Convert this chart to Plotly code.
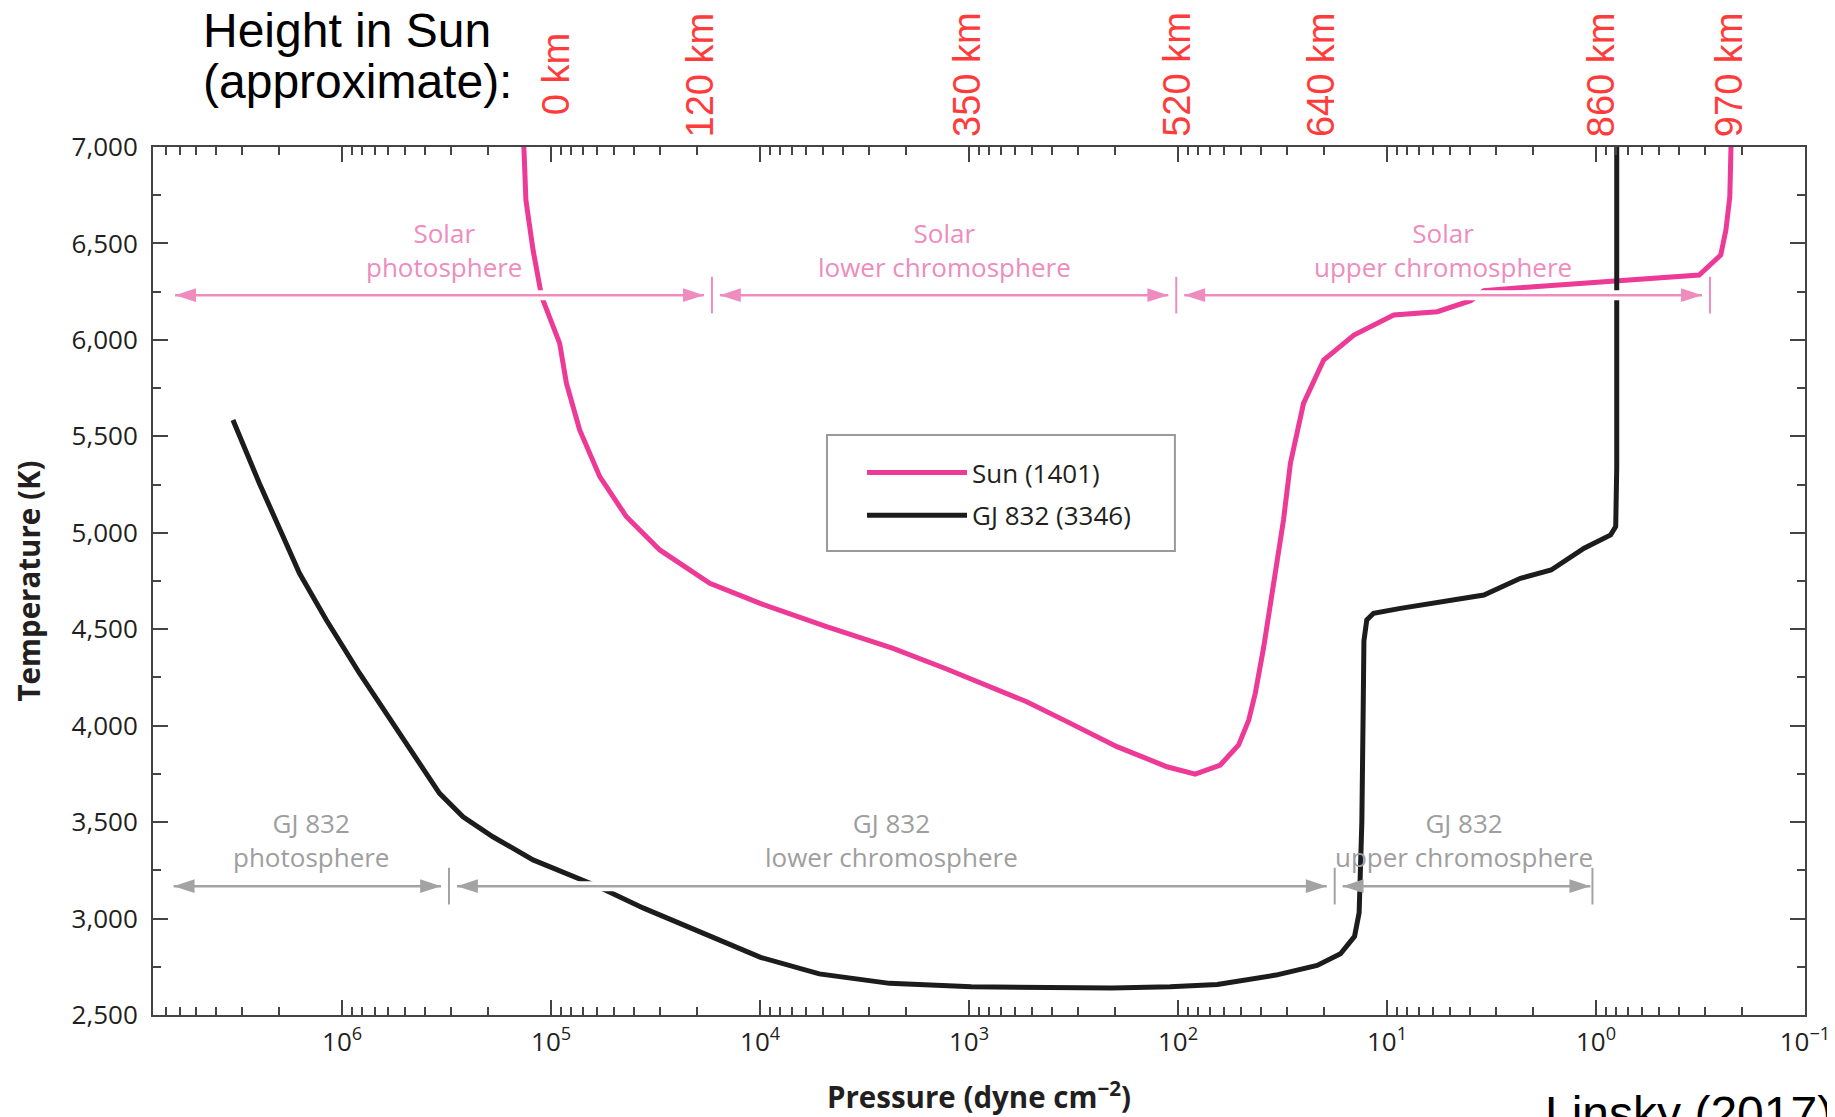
import math
import plotly.graph_objects as go

# ---------------- data ----------------
SUN_P = [1.35e5, 1.32e5, 1.22e5, 1.11e5, 9.1e4, 8.45e4, 7.3e4, 5.85e4, 4.36e4, 3.02e4,
         1.74e4, 1.0e4, 4.81e3, 2.31e3, 1.29e3, 711, 530, 340, 196, 113,
         82.8, 62.8, 51.3, 45.9, 42.7, 38.9, 34.9, 33.0, 31.3, 29.0,
         25.1, 20.1, 14.4, 9.29, 5.75, 3.98, 3.44, 1.98, 1.14, 0.791,
         0.548, 0.321, 0.253, 0.239, 0.229, 0.226]
SUN_T = [7000, 6725, 6466, 6224, 5982, 5775, 5533, 5291, 5083, 4911,
         4738, 4634, 4513, 4401, 4295, 4185, 4124, 4021, 3891, 3787,
         3749, 3796, 3900, 4029, 4168, 4409, 4755, 4911, 5066, 5360,
         5671, 5896, 6025, 6129, 6146, 6203, 6255, 6276, 6293, 6302,
         6316, 6336, 6440, 6570, 6742, 7000]

GJ_P = [3.33e6, 2.49e6, 1.60e6, 1.19e6, 8.26e5, 5.71e5, 4.42e5, 3.42e5, 2.64e5, 1.90e5,
        1.22e5, 7.29e4, 6.05e4, 3.61e4, 1.90e4, 9.95e3, 5.21e3, 2.40e3, 975, 394,
        207, 109, 64.9, 34.0, 21.6, 16.7, 14.3, 13.6, 13.2, 13.0,
        12.9, 12.5, 11.6, 8.63, 5.97, 3.44, 2.30, 1.64, 1.14, 0.986,
        0.851, 0.805, 0.796, 0.796]
GJ_T = [5585, 5257, 4790, 4548, 4272, 4012, 3822, 3649, 3528, 3424,
        3304, 3200, 3169, 3054, 2927, 2799, 2713, 2664, 2646, 2640,
        2640, 2646, 2658, 2707, 2757, 2817, 2908, 3030, 3500, 4100,
        4440, 4548, 4583, 4608, 4634, 4677, 4764, 4807, 4920, 4954,
        4989, 5032, 5336, 7000]

# atmospheric regions: boundaries in pressure (left end, inner boundaries, right end)
REGION_NAMES = ["photosphere", "lower chromosphere", "upper chromosphere"]
SUN_EDGES = [6.3e6, 1.7e4, 102, 0.285]
SUN_ARROW_T = 6232
SUN_LABEL_T = 6464
GJ_EDGES = [6.4e6, 3.08e5, 17.8, 1.04]
GJ_ARROW_T = 3168
GJ_LABEL_T = 3406

HEIGHT_LABELS = ["0 km", "120 km", "350 km", "520 km", "640 km", "860 km", "970 km"]
HEIGHT_P = [9.5e4, 1.94e4, 1.03e3, 1.02e2, 20.8, 0.95, 0.232]

X_TICK_EXP = [6, 5, 4, 3, 2, 1, 0, -1]
Y_TICKS = list(range(2500, 7001, 500))

# ---------------- styles ----------------
SUN_COLOR = "#ec3a96"
GJ_COLOR = "#1c1c1c"
SUN_NOTE = "#ee8cbe"
GJ_NOTE = "#9e9e9e"
GJ_ARROW = "#a3a3a3"
AXIS_COLOR = "#444444"
TEXT = "#231f20"

fig = go.Figure()
fig.add_trace(go.Scatter(x=SUN_P, y=SUN_T, mode="lines", name="Sun (1401)",
                         legendgroup="sun", line=dict(color=SUN_COLOR, width=5)))
fig.add_trace(go.Scatter(x=GJ_P, y=GJ_T, mode="lines", name="GJ 832 (3346)",
                         legendgroup="gj", line=dict(color=GJ_COLOR, width=5)))


def region_spans(edges, end_gap):
    logs = [math.log10(e) for e in edges]
    gap = 0.038
    spans = []
    for i in range(3):
        left = logs[i] - (0 if i == 0 else gap)
        right = logs[i + 1] + (end_gap if i == 2 else gap)
        spans.append((10 ** left, 10 ** right))
    return logs, spans


sun_logs, sun_spans = region_spans(SUN_EDGES, 0.038)
gj_logs, gj_spans = region_spans(GJ_EDGES, 0.01)

# white halos where the arrows cross the curves
hx, hy = [], []
for spans, t in [(sun_spans, SUN_ARROW_T), (gj_spans, GJ_ARROW_T)]:
    for a, b in spans:
        hx += [a, b, None]
        hy += [t, t, None]
fig.add_trace(go.Scatter(x=hx, y=hy, mode="lines", line=dict(color="white", width=10),
                         showlegend=False, hoverinfo="skip"))

# boundary bars and double-headed arrows
for edges, spans, t, color in [(SUN_EDGES, sun_spans, SUN_ARROW_T, SUN_NOTE),
                               (GJ_EDGES, gj_spans, GJ_ARROW_T, GJ_ARROW)]:
    bx, by = [], []
    for e in edges[1:]:
        bx += [e, e, None]
        by += [t - 95, t + 95, None]
    fig.add_trace(go.Scatter(x=bx, y=by, mode="lines", line=dict(color=color, width=2),
                             showlegend=False, hoverinfo="skip"))
    ax_, ay_, ang = [], [], []
    for a, b in spans:
        ax_ += [a, b, None]
        ay_ += [t, t, None]
        ang += [-90, 90, 0]
    fig.add_trace(go.Scatter(x=ax_, y=ay_, mode="lines+markers",
                             line=dict(color=color, width=2.5),
                             marker=dict(symbol="arrow", size=22, angle=ang,
                                         color=color, line=dict(width=0)),
                             showlegend=False, hoverinfo="skip"))

annotations = []
# region labels
for logs, t, prefix, color in [(sun_logs, SUN_LABEL_T, "Solar", SUN_NOTE),
                               (gj_logs, GJ_LABEL_T, "GJ 832", GJ_NOTE)]:
    for i in range(3):
        mid = (logs[i] + logs[i + 1]) / 2
        annotations.append(dict(x=mid, y=t, xref="x", yref="y",
                                text=prefix + "<br>" + REGION_NAMES[i],
                                showarrow=False, xanchor="center", yanchor="middle",
                                font=dict(family="Open Sans", size=26, color=color)))

# height-in-Sun labels above the plot
for lab, p in zip(HEIGHT_LABELS, HEIGHT_P):
    annotations.append(dict(x=math.log10(p), y=1.0835, xref="x", yref="paper",
                            text=lab, showarrow=False, textangle=-90,
                            xanchor="center", yanchor="middle",
                            font=dict(family="Liberation Sans, Arial", size=38, color="#ff3b3b")))

annotations.append(dict(x=0.0289, y=1.1345, xref="paper", yref="paper",
                        text="Height in Sun", showarrow=False, xanchor="left", yanchor="middle",
                        font=dict(family="Liberation Sans, Arial", size=48, color="black")))
annotations.append(dict(x=0.0289, y=1.0755, xref="paper", yref="paper",
                        text="(approximate):", showarrow=False, xanchor="left", yanchor="middle",
                        font=dict(family="Liberation Sans, Arial", size=48, color="black")))
annotations.append(dict(x=0.8415, y=-0.0806, xref="paper", yref="paper",
                        text="Linsky (2017)", showarrow=False, xanchor="left", yanchor="top",
                        font=dict(family="Liberation Sans, Arial", size=48, color="black")))

minor_x = [m * 10 ** k for k in range(-1, 7) for m in range(2, 10)]
minor_x = [v for v in minor_x if v < 8.0e6]

legend_box = dict(type="rect", xref="paper", yref="paper", layer="below",
                  x0=0.408, x1=0.6186, y0=0.5346, y1=0.6682,
                  line=dict(color="#9a9a9a", width=2), fillcolor="white")

# the page adds an 8 px body margin, so the figure is 8 px smaller than the window
fig.update_layout(
    width=1827, height=1109,
    margin=dict(l=145, r=30, t=139, b=102, autoexpand=False),
    paper_bgcolor="white", plot_bgcolor="white",
    font=dict(family="Open Sans", size=26, color=TEXT),
    shapes=[legend_box],
    annotations=annotations,
    showlegend=True,
    legend=dict(x=0.408, y=0.652, xanchor="left", yanchor="top",
                borderwidth=0, bgcolor="rgba(0,0,0,0)",
                font=dict(family="Open Sans", size=26, color=TEXT),
                itemwidth=100, indentation=35, traceorder="grouped", tracegroupgap=6),
)

fig.update_xaxes(
    type="log", range=[6.905, -1], automargin=False,
    tickmode="array", tickvals=[10 ** e for e in X_TICK_EXP],
    ticktext=["10<sup>%s</sup>" % (str(e) if e >= 0 else "\u2212" + str(-e)) for e in X_TICK_EXP],
    ticks="inside", ticklen=15, tickwidth=2, tickcolor=AXIS_COLOR,
    showline=True, linecolor=AXIS_COLOR, linewidth=2, mirror="ticks",
    showgrid=False, zeroline=False,
    minor=dict(tickvals=minor_x, ticks="inside", ticklen=8, tickwidth=1.5,
               tickcolor=AXIS_COLOR, showgrid=False),
    tickfont=dict(family="Open Sans", size=26, color=TEXT),
    ticklabelstandoff=3,
    title=dict(text="Pressure (dyne cm<sup>\u22122</sup>)",
               font=dict(family="Open Sans", size=29.5, color=TEXT, weight="bold"),
               standoff=31),
)
fig.update_yaxes(
    range=[2500, 7000], automargin=False,
    tickmode="array", tickvals=Y_TICKS, tickformat=",",
    ticks="inside", ticklen=15, tickwidth=2, tickcolor=AXIS_COLOR,
    showline=True, linecolor=AXIS_COLOR, linewidth=2, mirror="ticks",
    showgrid=False, zeroline=False,
    minor=dict(tickvals=list(range(2750, 7000, 500)), ticks="inside", ticklen=8,
               tickwidth=1.5, tickcolor=AXIS_COLOR, showgrid=False),
    tickfont=dict(family="Open Sans", size=26, color=TEXT),
    ticklabelstandoff=8,
    title=dict(text="Temperature (K)",
               font=dict(family="Open Sans", size=29.5, color=TEXT, weight="bold"),
               standoff=24),
)

fig.write_html("out.html")
